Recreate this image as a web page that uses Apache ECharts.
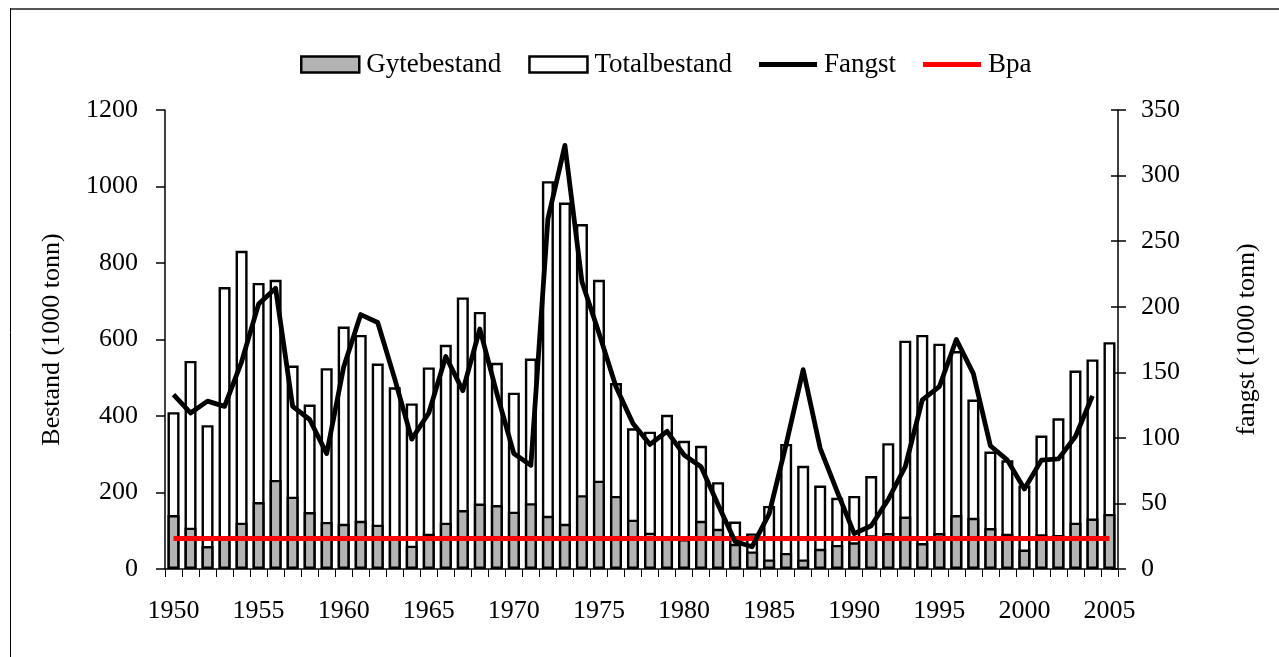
<!DOCTYPE html>
<html>
<head>
<meta charset="utf-8">
<script src="https://cdn.jsdelivr.net/npm/echarts@6/dist/echarts.min.js"></script>
<style>
html,body{margin:0;padding:0;background:#fff;}
#chart{width:1279px;height:657px;}
</style>
</head>
<body>
<div id="chart"></div>
<script>
const years = ["1950","1951","1952","1953","1954","1955","1956","1957","1958","1959",
"1960","1961","1962","1963","1964","1965","1966","1967","1968","1969",
"1970","1971","1972","1973","1974","1975","1976","1977","1978","1979",
"1980","1981","1982","1983","1984","1985","1986","1987","1988","1989",
"1990","1991","1992","1993","1994","1995","1996","1997","1998","1999",
"2000","2001","2002","2003","2004","2005"];

const gytebestand = [141,108,60,80,121,175,233,189,149,123,
118,126,116,80,61,92,121,154,171,167,
150,172,139,118,193,231,191,129,95,80,
78,126,105,66,46,25,42,25,53,63,
70,88,94,137,68,94,141,134,107,92,
51,91,89,121,132,144];

const totalbestand = [410,544,376,737,832,748,756,532,430,525,
634,612,537,475,433,527,586,710,672,539,
461,550,1014,958,902,756,486,368,359,403,
335,322,227,124,93,165,327,270,218,186,
191,243,329,597,612,589,570,443,307,284,
218,349,394,519,548,593];

const fangst = [133,119,128,124,158,202,214,124,114,88,
154,194,188,145,99,119,162,136,183,134,
88,79,267,323,219,180,139,111,95,105,
87,78,49,21,17,42,95,152,92,59,
27,33,53,78,129,139,175,149,94,83,
61,83,84,101,132,null];

const bpa = [80,80,80,80,80,80,80,80,80,80,
80,80,80,80,80,80,80,80,80,80,
80,80,80,80,80,80,80,80,80,80,
80,80,80,80,80,80,80,80,80,80,
80,80,80,80,80,80,80,80,80,80,
80,80,80,80,80,80];

const leftTicks = {min:0, max:1200, interval:200};
const rightTicks = {min:0, max:350, interval:50};

const FONT = "'Liberation Serif', 'Times New Roman', serif";
const LINE_ICON = 'path://M0,0L58,0L58,5L0,5Z';
const chart = echarts.init(document.getElementById('chart'));
chart.setOption({
  animation:false,
  backgroundColor:'#fff',
  textStyle:{fontFamily:FONT, color:'#000'},
  graphic:[
    {type:'line', shape:{x1:10,y1:9,x2:1279,y2:9}, style:{stroke:'#555',lineWidth:2}},
    {type:'line', shape:{x1:10.5,y1:8,x2:10.5,y2:657}, style:{stroke:'#000',lineWidth:1}}
  ],
  legend:{
    left:295, top:46,
    itemWidth:58, itemHeight:16, itemGap:27, symbolKeepAspect:true,
    textStyle:{fontFamily:FONT, fontSize:27, color:'#000', padding:[0,0,0,2]},
    data:[
      {name:'Gytebestand', icon:'rect', itemStyle:{color:'#b3b3b3', borderColor:'#000', borderWidth:2.5}},
      {name:'Totalbestand', icon:'rect', itemStyle:{color:'#fff', borderColor:'#000', borderWidth:2.5}},
      {name:'Fangst', icon:LINE_ICON},
      {name:'Bpa', icon:LINE_ICON}
    ]
  },
  grid:{left:165, right:161, top:110, bottom:88, containLabel:false},
  xAxis:{
    type:'category', data:years, boundaryGap:true,
    axisLine:{show:true, lineStyle:{color:'#000', width:1.5}},
    axisTick:{show:true, interval:0, length:8, alignWithLabel:false, lineStyle:{color:'#000', width:1}},
    axisLabel:{interval:4, margin:29, fontSize:26, fontFamily:FONT, color:'#000'},
    splitLine:{show:false}
  },
  yAxis:[
    {type:'value', min:leftTicks.min, max:leftTicks.max, interval:leftTicks.interval,
     name:'Bestand (1000 tonn)', nameLocation:'middle', nameGap:100, nameRotate:90,
     nameTextStyle:{fontSize:26, fontFamily:FONT, color:'#000'},
     axisLine:{show:true, lineStyle:{color:'#000', width:1.5}},
     axisTick:{show:true, length:9, lineStyle:{color:'#000', width:1.5}},
     axisLabel:{margin:27, fontSize:26, fontFamily:FONT, color:'#000', formatter:function(v){return String(v);}},
     splitLine:{show:false}},
    {type:'value', position:'right', min:rightTicks.min, max:rightTicks.max, interval:rightTicks.interval,
     name:'fangst (1000 tonn)', nameLocation:'middle', nameGap:116, nameRotate:90,
     nameTextStyle:{fontSize:26, fontFamily:FONT, color:'#000'},
     axisLine:{show:true, lineStyle:{color:'#000', width:1.5}},
     axisTick:{show:true, length:8, lineStyle:{color:'#000', width:1.5}},
     axisLabel:{margin:23, fontSize:26, fontFamily:FONT, color:'#000', formatter:function(v){return String(v);}},
     splitLine:{show:false}},
    {type:'value', position:'right', min:rightTicks.min, max:rightTicks.max, interval:rightTicks.interval,
     axisLine:{show:false},
     axisTick:{show:true, inside:true, length:7, lineStyle:{color:'#000', width:1.5}},
     axisLabel:{show:false},
     splitLine:{show:false}}
  ],
  series:[
    {name:'Totalbestand', type:'bar', data:totalbestand, barWidth:12, barGap:'-100%',
     itemStyle:{color:'#fff', borderColor:'#000', borderWidth:2.4}},
    {name:'Gytebestand', type:'bar', data:gytebestand, barWidth:12, barGap:'-100%',
     itemStyle:{color:'#b3b3b3', borderColor:'#000', borderWidth:2.4}},
    {name:'Bpa', type:'line', data:bpa, yAxisIndex:0, symbol:'none', showSymbol:false,
     lineStyle:{color:'#ff0000', width:5}, itemStyle:{color:'#ff0000'}, z:5},
    {name:'Fangst', type:'line', data:fangst, yAxisIndex:1, symbol:'none', showSymbol:false,
     lineStyle:{color:'#000', width:4.8, join:'round'}, itemStyle:{color:'#000'}, z:6}
  ]
});
</script>
</body>
</html>
